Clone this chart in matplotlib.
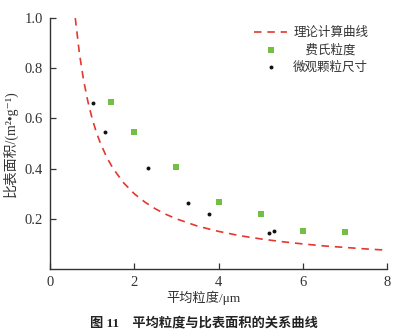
import matplotlib
matplotlib.use('Agg')
import matplotlib.pyplot as plt

plt.rcParams['font.family'] = ['Liberation Serif', 'DejaVu Serif', 'Noto Sans CJK SC']
plt.rcParams['axes.unicode_minus'] = False

# ── 数据───────────────────────────────────────────────────────
theory_d = [0.6, 0.7, 0.8, 0.9, 1.0, 1.1, 1.2, 1.35, 1.5, 1.75, 2.0, 2.25, 2.5,
            2.75, 3.0, 3.5, 4.0, 4.5, 5.0, 5.5, 6.0, 6.5, 7.0, 7.5, 8.0]
theory_s = [1.0, 0.857, 0.75, 0.667, 0.60, 0.545, 0.50, 0.444, 0.40, 0.343, 0.30,
            0.267, 0.24, 0.218, 0.20, 0.171, 0.15, 0.133, 0.12, 0.109, 0.10,
            0.092, 0.086, 0.080, 0.075]

fisher_d = [1.45, 2.0, 3.0, 4.0, 5.0, 6.0, 7.0]
fisher_s = [0.664, 0.547, 0.405, 0.266, 0.219, 0.151, 0.146]

micro_d = [1.02, 1.30, 2.33, 3.28, 3.78, 5.20, 5.32]
micro_s = [0.661, 0.546, 0.404, 0.264, 0.219, 0.144, 0.150]

x_ticks = [0, 2, 4, 6, 8]
y_ticks = [0.2, 0.4, 0.6, 0.8, 1.0]

C_RED = '#e2382f'
C_GREEN = '#72bf44'
C_TEXT = '#333333'

fig = plt.figure(figsize=(4.0, 3.35), dpi=100, facecolor='white')
ax = fig.add_axes([0.125, 0.197, 0.8425, 0.749])

ax.plot(theory_d, theory_s, color=C_RED, lw=1.2, dashes=(4.5, 3.5), label='理论计算曲线')
# 图例文字居中：用全角空格补齐
ax.scatter(fisher_d, fisher_s, marker='s', s=22, color=C_GREEN, lw=0, label='\u3000费氏粒度', zorder=3)
ax.scatter(micro_d, micro_s, marker='o', s=8, color='#111111', lw=0, label='微观颗粒尺寸', zorder=3)

ax.set_xlim(0, 8)
ax.set_ylim(0, 1.0)
ax.set_xticks(x_ticks)
ax.set_xticklabels([str(v) for v in x_ticks])
ax.set_yticks(y_ticks)
ax.set_yticklabels([f'{v:.1f}' for v in y_ticks])

for s in ['top', 'right']:
    ax.spines[s].set_visible(False)
for s in ['left', 'bottom']:
    ax.spines[s].set_linewidth(1.0)
    ax.spines[s].set_color(C_TEXT)
ax.tick_params(direction='in', length=4, width=0.9, colors=C_TEXT, labelsize=10.5, pad=5)

ax.set_xlabel('平均粒度/μm', fontsize=9.5, color=C_TEXT)
ax.xaxis.set_label_coords(0.455, -0.085)
ax.set_ylabel('比表面积/(m²•g⁻¹)', fontsize=10, color=C_TEXT)
ax.yaxis.set_label_coords(-0.095, 0.5)

leg = ax.legend(loc='upper right', bbox_to_anchor=(0.97, 1.0), frameon=False, fontsize=9,
                handlelength=2.6, handletextpad=0.5, labelspacing=0.4, borderaxespad=0.3)
for t in leg.get_texts():
    t.set_color(C_TEXT)

fig.text(0.51, 0.035, '图 11　平均粒度与比表面积的关系曲线', ha='center', va='center',
         fontsize=9.5, fontweight='bold', color='#222222')

fig.savefig('out.png', dpi=100, facecolor='white')
plt.close(fig)
